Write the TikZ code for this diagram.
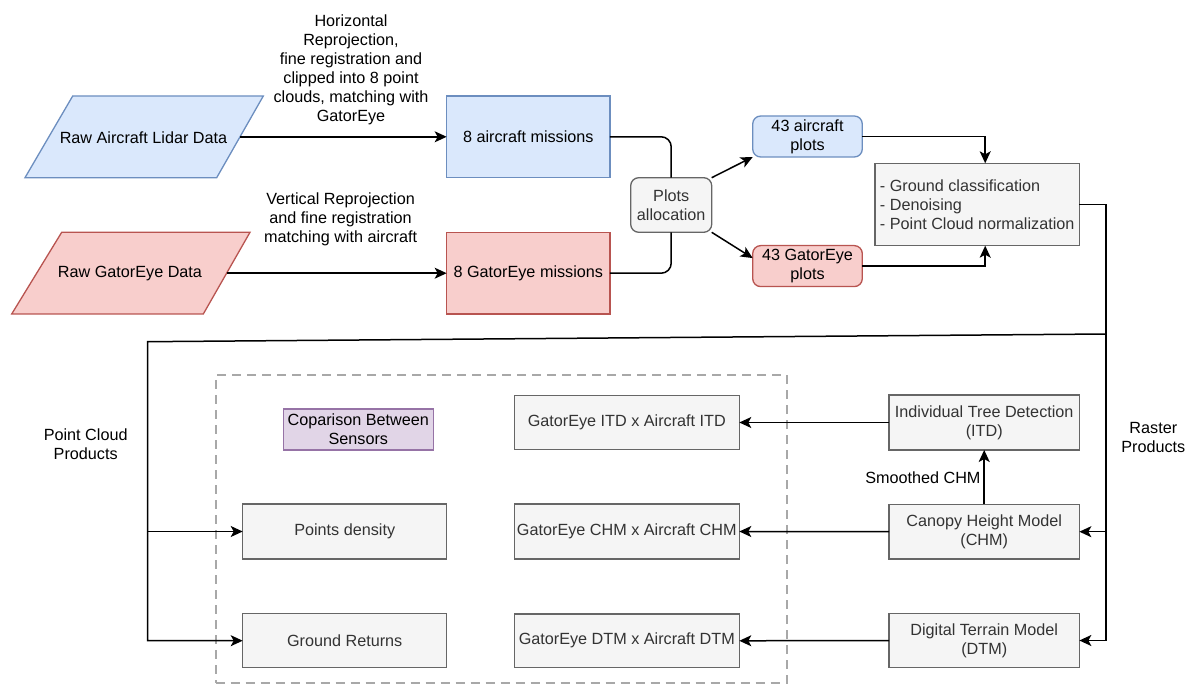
\documentclass[tikz,border=0pt]{standalone}
\usepackage{fontspec}
\setmainfont{Liberation Sans}
\usetikzlibrary{arrows.meta,calc}
\definecolor{bfill}{HTML}{DAE8FC}\definecolor{bdraw}{HTML}{6C8EBF}
\definecolor{rfill}{HTML}{F8CECC}\definecolor{rdraw}{HTML}{B85450}
\definecolor{gfill}{HTML}{F5F5F5}\definecolor{gdraw}{HTML}{666666}\definecolor{gtext}{HTML}{333333}
\definecolor{pfill}{HTML}{E1D5E7}\definecolor{pdraw}{HTML}{9673A6}
\definecolor{dashc}{HTML}{A8A8A8}
\begin{document}
\begin{tikzpicture}[x=1pt,y=-1pt,
  every node/.style={font=\fontsize{16.2}{19}\selectfont, inner sep=0pt, outer sep=0pt},
  sz/.style 2 args={minimum width=#1pt, minimum height=#2pt},
  bluebox/.style={draw=bdraw, fill=bfill, line width=1.3pt, align=center, text=black},
  redbox/.style={draw=rdraw, fill=rfill, line width=1.3pt, align=center, text=black},
  graybox/.style={draw=gdraw, fill=gfill, line width=1.3pt, align=center, text=gtext},
  purplebox/.style={draw=pdraw, fill=pfill, line width=1.3pt, align=center, text=black},
  rnd/.style={rounded corners=8pt},
  lbl/.style={align=center, text=black},
  conn/.style={line width=1.5pt, draw=black},
  arr/.style={conn, -{Stealth[length=12pt,width=11pt,inset=3pt]}},
  grpbox/.style={draw=dashc, line width=2pt, dash pattern=on 9pt off 6pt}
]
\useasboundingbox (0,0) rectangle (1191,684);

% group box
\node[grpbox, sz={571}{308}] (grp) at (501.2,529) {};

% input parallelograms
\draw[draw=bdraw, fill=bfill, line width=1.3pt] (72.7,96) -- (263.3,96) -- (216.7,177.7) -- (25,177.7) -- cycle;
\node[lbl] (rawA) at (143.5,137.3) {Raw Aircraft Lidar Data};
\coordinate (rawAe) at (240,136.8);
\draw[draw=rdraw, fill=rfill, line width=1.3pt] (61.7,232.3) -- (250,232.3) -- (203.3,314) -- (11.7,314) -- cycle;
\node[lbl] (rawG) at (130,273.3) {Raw GatorEye Data};
\coordinate (rawGe) at (226.7,273.2);

% missions
\node[bluebox, sz={163.3}{81.7}] (am) at (528.3,136.8) {8 aircraft missions};
\node[redbox, sz={163.3}{81.7}] (gm) at (528.3,273.2) {8 GatorEye missions};

% labels
\node[lbl] (l1) at (351,70) {Horizontal\\Reprojection,\\fine registration and\\clipped into 8 point\\clouds, matching with\\GatorEye};
\node[lbl] (l2) at (340.6,219) {Vertical Reprojection\\and fine registration\\matching with aircraft};

% plots allocation
\node[graybox, rnd, sz={81}{54.6}] (pa) at (671.2,205) {Plots\\allocation};
\node[bluebox, rnd, sz={109.6}{41}] (ap) at (807.5,136.5) {43 aircraft\\plots};
\node[redbox, rnd, sz={109.6}{41}] (gp) at (807.5,266.1) {43 GatorEye\\plots};

% processing
\node[graybox, sz={204.3}{82.4}, align=left] (proc) at (977.2,204.5) {- Ground classification\\- Denoising\\- Point Cloud normalization};

% raster products
\node[graybox, sz={190.3}{55}] (itd) at (984.2,422.5) {Individual Tree Detection\\(ITD)};
\node[graybox, sz={190.3}{54.7}] (chm) at (984.2,531.7) {Canopy Height Model\\(CHM)};
\node[graybox, sz={190.3}{54.4}] (dtm) at (984.2,640.5) {Digital Terrain Model\\(DTM)};

% comparisons
\node[graybox, sz={225}{53.6}] (gitd) at (626.8,422.5) {GatorEye ITD x Aircraft ITD};
\node[graybox, sz={225}{55}] (gchm) at (626.8,531.5) {GatorEye CHM x Aircraft CHM};
\node[graybox, sz={225}{53.7}] (gdtm) at (626.8,640.8) {GatorEye DTM x Aircraft DTM};
\node[graybox, sz={204}{55}] (pd) at (344.7,531.5) {Points density};
\node[graybox, sz={204}{54}] (gr) at (344.7,640.7) {Ground Returns};
\node[purplebox, sz={150}{41}] (cmp) at (358.3,429.5) {Coparison Between\\Sensors};

\node[lbl] (pcp) at (85.7,443.8) {Point Cloud\\Products};
\node[lbl] (rp) at (1153.3,437.2) {Raster\\Products};
\node[lbl, anchor=east] (sm) at (980.5,477.7) {Smoothed CHM};

% connectors
\draw[arr] (rawAe) -- (rawAe -| am.west);
\draw[arr] (rawGe) -- (rawGe -| gm.west);
\draw[conn, rounded corners=10pt] (am.east) -| (pa.north);
\draw[conn, rounded corners=10pt] (gm.east) -| (pa.south);
\draw[arr] (pa.north east) -- (ap.south west);
\draw[arr] (pa.south east) -- ([yshift=8pt]gp.west);
\draw[arr] (ap.east) -| ([xshift=8pt]proc.north);
\draw[arr] (gp.east) -| ([xshift=8pt]proc.south);

\coordinate (rv) at (1106,0);
\coordinate (R) at (1106,334);
\coordinate (L) at (147.7,341.7);
\draw[arr] (proc.east) -| (rv |- dtm.east) -- (dtm.east);
\draw[arr] (rv |- chm.east) -- (chm.east);
\draw[arr] (R) -- (L) -- (L |- gr.west) -- (gr.west);
\draw[arr] (L |- pd.west) -- (pd.west);

\draw[arr] (itd.west) -- (gitd.east);
\draw[arr] (chm.west) -- (gchm.east);
\draw[arr] (dtm.west) -- (gdtm.east);
\draw[arr] (chm.north) -- (itd.south);
\end{tikzpicture}
\end{document}
